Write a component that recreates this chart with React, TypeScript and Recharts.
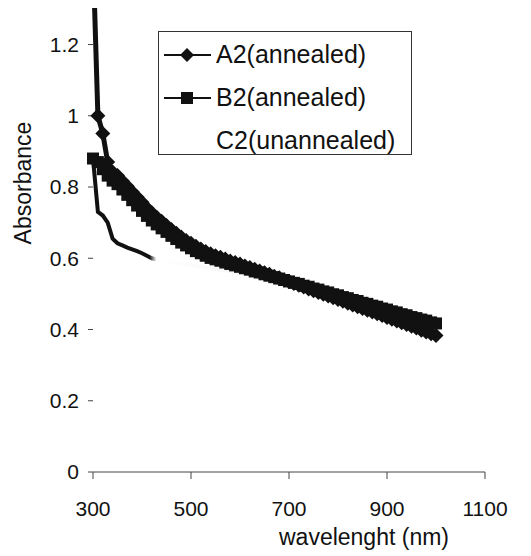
import React from 'react';
import {
  LineChart,
  Line,
  XAxis,
  YAxis,
  Legend,
  Label,
} from 'recharts';

// wavelength, nm (one reading every 10 nm)
const wavelength = [
  300, 310, 320, 330, 340, 350, 360, 370, 380, 390, 400, 410, 420, 430, 440, 450, 460, 470,
  480, 490, 500, 510, 520, 530, 540, 550, 560, 570, 580, 590, 600, 610, 620, 630, 640, 650,
  660, 670, 680, 690, 700, 710, 720, 730, 740, 750, 760, 770, 780, 790, 800, 810, 820, 830,
  840, 850, 860, 870, 880, 890, 900, 910, 920, 930, 940, 950, 960, 970, 980, 990, 1000,
];

const a2Annealed = [
  1.45, 1.0, 0.95, 0.87, 0.842, 0.832, 0.817, 0.802, 0.787, 0.772, 0.757, 0.741, 0.728,
  0.715, 0.704, 0.692, 0.681, 0.67, 0.66, 0.65, 0.642, 0.634, 0.626, 0.619, 0.613, 0.607,
  0.603, 0.598, 0.592, 0.588, 0.584, 0.578, 0.574, 0.569, 0.564, 0.559, 0.555, 0.549, 0.545,
  0.539, 0.535, 0.529, 0.524, 0.519, 0.514, 0.509, 0.504, 0.499, 0.494, 0.489, 0.484, 0.479,
  0.474, 0.469, 0.464, 0.459, 0.454, 0.449, 0.444, 0.439, 0.434, 0.429, 0.424, 0.419, 0.414,
  0.409, 0.404, 0.398, 0.393, 0.388, 0.383,
];

const b2Annealed = [
  0.88, 0.87, 0.85, 0.832, 0.818, 0.808, 0.793, 0.778, 0.763, 0.748, 0.733, 0.719, 0.706,
  0.695, 0.684, 0.674, 0.663, 0.654, 0.644, 0.636, 0.628, 0.62, 0.614, 0.607, 0.601, 0.597,
  0.593, 0.588, 0.584, 0.58, 0.576, 0.572, 0.568, 0.563, 0.56, 0.555, 0.551, 0.547, 0.543,
  0.539, 0.535, 0.531, 0.528, 0.523, 0.52, 0.515, 0.512, 0.507, 0.504, 0.499, 0.496, 0.491,
  0.488, 0.483, 0.48, 0.475, 0.472, 0.467, 0.464, 0.459, 0.456, 0.451, 0.448, 0.443, 0.44,
  0.435, 0.432, 0.428, 0.425, 0.42, 0.417,
];

const c2Unannealed = [
  0.88, 0.73, 0.72, 0.7, 0.655, 0.642, 0.636, 0.63, 0.625, 0.62, 0.614, 0.607, 0.6, 0.597,
  0.594, 0.592, 0.59, 0.587, 0.585, 0.583, 0.58, 0.578, 0.576, 0.574, 0.572, 0.57, 0.568,
  0.566, 0.564, 0.562, 0.56, 0.558, 0.556, 0.553, 0.55, 0.547, 0.544, 0.541, 0.537, 0.533,
  0.529, 0.524, 0.52, 0.515, 0.511, 0.506, 0.502, 0.497, 0.493, 0.488, 0.484, 0.479, 0.475,
  0.47, 0.466, 0.461, 0.457, 0.452, 0.448, 0.443, 0.439, 0.434, 0.43, 0.425, 0.421, 0.416,
  0.412, 0.407, 0.403, 0.398, 0.394,
];

const xTicks = [300, 500, 700, 900, 1100];
const yTicks = [0, 0.2, 0.4, 0.6, 0.8, 1, 1.2];

const seriesNames = ['A2(annealed)', 'B2(annealed)', 'C2(unannealed)'];

const data = wavelength.map((w, i) => ({
  w,
  a2: a2Annealed[i],
  b2: b2Annealed[i],
  c2: c2Unannealed[i],
}));

const FONT = '"Liberation Sans", Arial, Helvetica, sans-serif';
const INK = '#111';

const diamondDot = (props: any) => {
  const { cx, cy, index } = props;
  if (cx == null || cy == null) return <g key={index} />;
  const r = 7.5;
  return (
    <path
      key={index}
      d={`M${cx},${cy - r}L${cx + r},${cy}L${cx},${cy + r}L${cx - r},${cy}Z`}
      fill={INK}
    />
  );
};

const squareDot = (props: any) => {
  const { cx, cy, index } = props;
  if (cx == null || cy == null) return <g key={index} />;
  const r = 6;
  return <rect key={index} x={cx - r} y={cy - r} width={r * 2} height={r * 2} fill={INK} />;
};

const legendContent = (props: any) => {
  const { payload } = props;
  return (
    <div
      style={{
        border: '1px solid #333',
        width: 254,
        height: 124,
        boxSizing: 'border-box',
        paddingTop: 1,
        fontFamily: FONT,
        fontSize: 25,
        color: INK,
        background: '#fff',
      }}
    >
      {payload.map((entry: any, i: number) => (
        <div key={i} style={{ display: 'flex', alignItems: 'center', height: 43 }}>
          <svg width={55} height={20} style={{ flex: 'none' }}>
            {i < 2 && <line x1={5} y1={10} x2={52} y2={10} stroke={INK} strokeWidth={2} />}
            {i === 0 && <path d="M28,3L35,10L28,17L21,10Z" fill={INK} />}
            {i === 1 && <rect x={22} y={4} width={12} height={12} fill={INK} />}
          </svg>
          <span style={{ marginLeft: 2 }}>{entry.value}</span>
        </div>
      ))}
    </div>
  );
};

const yLabel = () => (
  <text
    x={23}
    y={183}
    transform="rotate(-90, 23, 183)"
    textAnchor="middle"
    dominantBaseline="central"
    fontFamily={FONT}
    fontSize={23}
    fill={INK}
  >
    Absorbance
  </text>
);

export default function App() {
  return (
    <div style={{ margin: '-8px 0 0 -8px', width: 531, height: 556, background: '#fff' }}>
      <LineChart
        width={531}
        height={556}
        data={data}
        margin={{ top: 0, right: 46, left: 0, bottom: 0 }}
      >
        <defs>
          <linearGradient id="c2fade" x1="0" y1="0" x2="1" y2="0">
            <stop offset="0" stopColor={INK} />
            <stop offset="0.165" stopColor={INK} />
            <stop offset="0.185" stopColor="#ffffff" />
            <stop offset="1" stopColor="#e2e2e2" />
          </linearGradient>
        </defs>
        <XAxis
          dataKey="w"
          type="number"
          domain={[300, 1100]}
          ticks={xTicks}
          height={84}
          tickSize={7}
          tickMargin={22}
          axisLine={{ stroke: '#444', strokeWidth: 1 }}
          tickLine={{ stroke: '#444' }}
          tick={{ fill: INK, fontSize: 21, fontFamily: FONT }}
        >
          <Label
            value="wavelenght (nm)"
            position="insideBottom"
            dx={75}
            offset={11}
            fill={INK}
            fontSize={23}
            fontFamily={FONT}
          />
        </XAxis>
        <YAxis
          type="number"
          domain={[0, 1.325]}
          allowDataOverflow
          ticks={yTicks}
          width={93}
          tickSize={5}
          tickMargin={9}
          axisLine={false}
          tickLine={{ stroke: '#444' }}
          tick={{ fill: INK, fontSize: 21, fontFamily: FONT }}
          label={yLabel}
        />
        <Legend
          layout="vertical"
          align="center"
          verticalAlign="middle"
          wrapperStyle={{ left: 158, top: 31, width: 254 }}
          content={legendContent}
        />
        <Line
          name={seriesNames[0]}
          dataKey="a2"
          type="linear"
          stroke={INK}
          strokeWidth={5}
          dot={diamondDot}
          activeDot={false}
          isAnimationActive={false}
        />
        <Line
          name={seriesNames[1]}
          dataKey="b2"
          type="linear"
          stroke={INK}
          strokeWidth={5}
          dot={squareDot}
          activeDot={false}
          isAnimationActive={false}
        />
        <Line
          name={seriesNames[2]}
          dataKey="c2"
          type="linear"
          stroke="url(#c2fade)"
          strokeWidth={4}
          dot={false}
          activeDot={false}
          isAnimationActive={false}
        />
      </LineChart>
    </div>
  );
}
